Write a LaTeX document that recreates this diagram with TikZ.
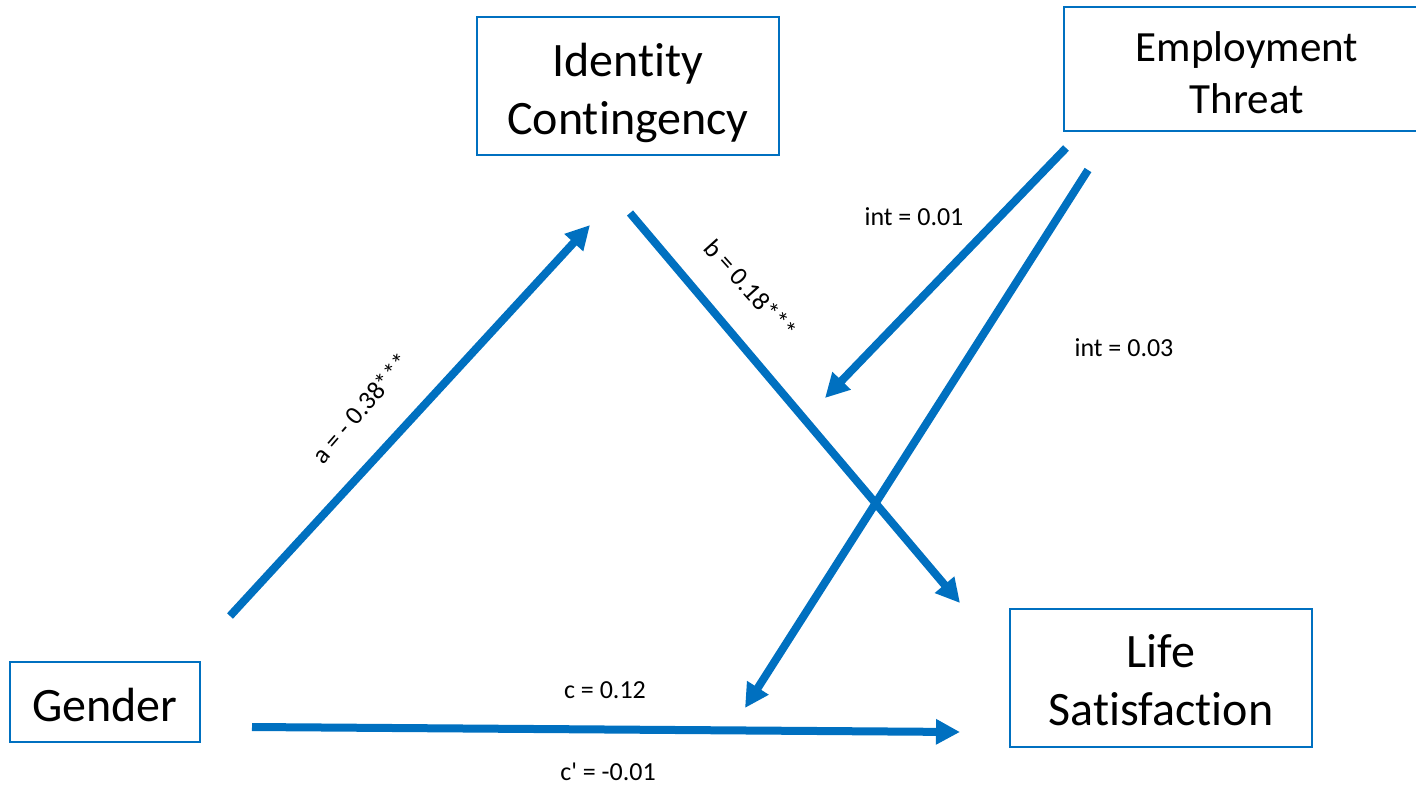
\documentclass[tikz,border=0pt]{standalone}
\usepackage{fontspec}
\setmainfont{Carlito}[Ligatures={TeXOff,NoCommon}]
\usetikzlibrary{arrows.meta}
\definecolor{pathblue}{HTML}{0070C0}

\begin{document}
\begin{tikzpicture}[x=0.75pt,y=-0.75pt,
    box/.style={draw=pathblue, line width=1.5pt, inner sep=0pt},
    boxtext/.style={align=center, inner sep=0pt, font=\fontsize{36}{43.5}\selectfont},
    effect/.style={draw=pathblue, line width=6pt,
        -{Triangle[length=18pt,width=18pt]}},
    coef/.style={inner sep=0pt, font=\fontsize{19.5}{23}\selectfont}]
    \useasboundingbox (0,0) rectangle (1416,785);

    % Variabili
    \node[box, minimum width=227pt, minimum height=104pt] (ident) at (628,86) {};
    \node[boxtext] (identtxt) at (628,93) {Identity\\Contingency};
    \node[box, minimum width=275pt, minimum height=93pt] (threat) at (1247,69) {};
    \node[boxtext, font=\fontsize{32.3}{39}\selectfont] (threattxt) at (1247,73) {Employment\\Threat};
    \node[box, minimum width=143pt, minimum height=60pt] (gender) at (105,702) {};
    \node[boxtext] (gendertxt) at (105,705) {Gender};
    \node[box, minimum width=227pt, minimum height=104pt] (life) at (1161,678) {};
    \node[boxtext] (lifetxt) at (1161,680) {Life\\Satisfaction};

    % Estremi delle frecce
    \coordinate (a0) at (230,616);
    \coordinate (a1) at (590,225);
    \coordinate (b0) at (630,213);
    \coordinate (b1) at (960,603);
    \coordinate (c0) at (252,727);
    \coordinate (c1) at (960,732);
    \coordinate (m0) at (1066,148);
    \coordinate (m1) at (825,398);
    \coordinate (n0) at (1088,170);
    \coordinate (n1) at (745,708);

    % Percorsi
    \draw[effect] (a0) -- (a1);
    \draw[effect] (b0) -- (b1);
    \draw[effect] (c0) -- (c1);
    \draw[effect] (m0) -- (m1);
    \draw[effect] (n0) -- (n1);

    % Coefficienti
    \node[coef, rotate=49] (alab) at (361,408) {a = - 0.38***};
    \node[coef, rotate=-48] (blab) at (751,289) {b = 0.18***};
    \node[coef] (clab) at (605,690) {c = 0.12};
    \node[coef] (cplab) at (608,772) {c' = -0.01};
    \node[coef] (mlab) at (914,217) {int = 0.01};
    \node[coef] (nlab) at (1124,348) {int = 0.03};
\end{tikzpicture}
\end{document}
